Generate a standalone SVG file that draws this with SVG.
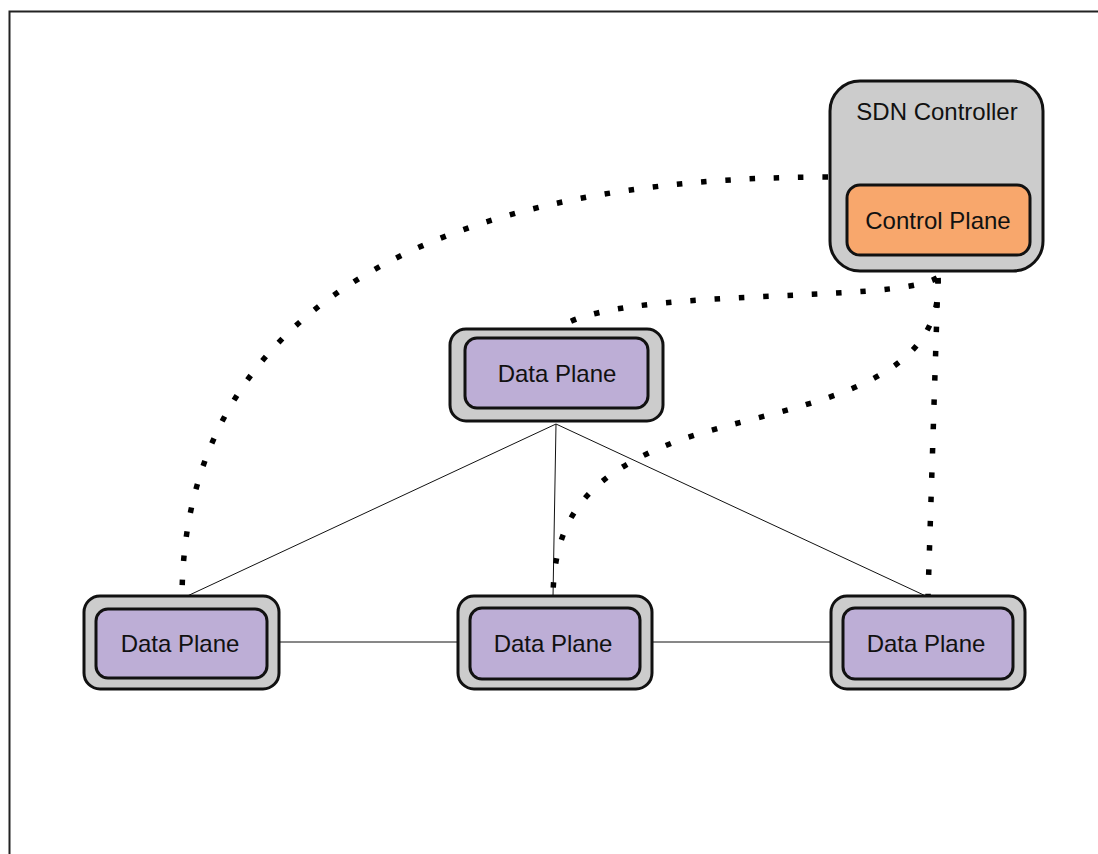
<svg xmlns="http://www.w3.org/2000/svg" width="1098" height="854" viewBox="0 0 1098 854">
  <style>
    .outer { fill: #cccccc; stroke: #111111; stroke-width: 3; }
    .dp { fill: #bdaed6; stroke: #111111; stroke-width: 3; }
    .cp { fill: #f8a76c; stroke: #111111; stroke-width: 3; }
    .label { font-family: "Liberation Sans", Arial, sans-serif; font-size: 24px; fill: #111111; text-anchor: middle; }
    .link { fill: none; stroke: #111111; stroke-width: 1; }
    .ctrl { fill: none; stroke: #000000; stroke-width: 5.5; stroke-dasharray: 5.5 18.8; }
  </style>

  <!-- page frame -->
  <rect x="9.5" y="11.5" width="1100" height="860" fill="#ffffff" stroke="#222222" stroke-width="2"/>

  <!-- connectors -->
  <g id="connectors">
    <!-- data-plane links -->
    <line class="link" x1="556" y1="424" x2="183" y2="598"/>
    <line class="link" x1="556" y1="424" x2="553" y2="597"/>
    <line class="link" x1="556" y1="424" x2="928" y2="597"/>
    <line class="link" x1="279" y1="642" x2="458" y2="642"/>
    <line class="link" x1="652" y1="642" x2="831" y2="642"/>
    <!-- control channels -->
    <path class="ctrl" d="M828,177 C450,177 182,300 182,600"/>
    <path class="ctrl" d="M937,278 C890,305 610,285 556,330"/>
    <path class="ctrl" d="M938,278 C945,395 780,405 680,440 C585,475 553,520 553,600"/>
    <path class="ctrl" d="M938,278 L928,596"/>
  </g>

  <!-- SDN controller -->
  <g id="sdn-controller">
    <rect class="outer" x="830" y="81" width="213" height="190" rx="30"/>
    <text class="label" x="937" y="120">SDN Controller</text>
  </g>
  <g id="control-plane">
    <rect class="cp" x="847" y="185" width="183" height="70" rx="13"/>
    <text class="label" x="938" y="229">Control Plane</text>
  </g>

  <!-- data planes -->
  <g id="data-plane-top">
    <rect class="outer" x="450" y="329" width="213" height="92" rx="16"/>
    <rect class="dp" x="465" y="338" width="183" height="70" rx="12"/>
    <text class="label" x="557" y="382">Data Plane</text>
  </g>
  <g id="data-plane-left">
    <rect class="outer" x="84" y="596" width="195" height="93" rx="16"/>
    <rect class="dp" x="96" y="609" width="171" height="69" rx="12"/>
    <text class="label" x="180" y="652">Data Plane</text>
  </g>
  <g id="data-plane-middle">
    <rect class="outer" x="458" y="596" width="194" height="93" rx="16"/>
    <rect class="dp" x="470" y="608" width="170" height="71" rx="12"/>
    <text class="label" x="553" y="652">Data Plane</text>
  </g>
  <g id="data-plane-right">
    <rect class="outer" x="831" y="596" width="194" height="93" rx="16"/>
    <rect class="dp" x="843" y="608" width="170" height="71" rx="12"/>
    <text class="label" x="926" y="652">Data Plane</text>
  </g>
</svg>
